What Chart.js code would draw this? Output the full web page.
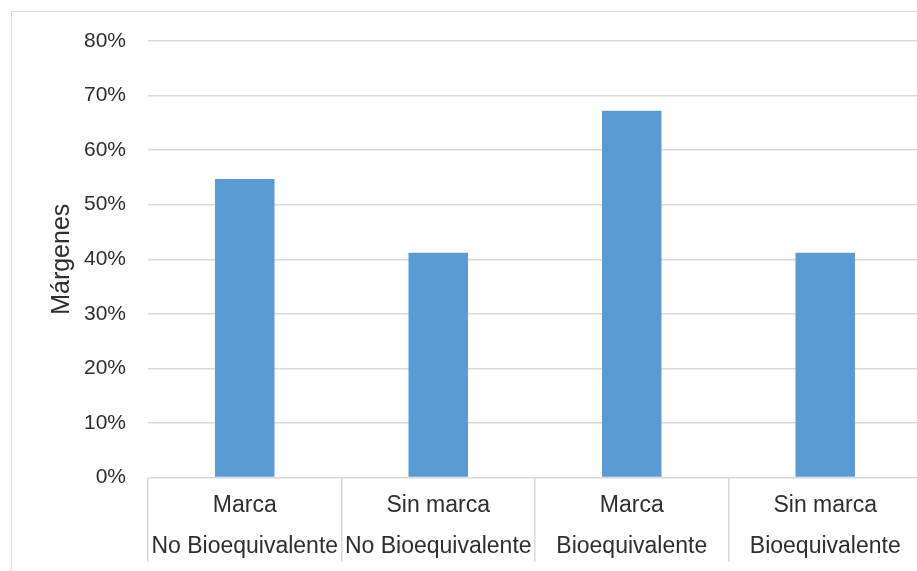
<!DOCTYPE html>
<html>
<head>
<meta charset="utf-8">
<script src="https://cdn.jsdelivr.net/npm/chart.js@4/dist/chart.umd.min.js"></script>
<style>
  html, body { margin: 0; padding: 0; background: #ffffff; overflow: hidden; width: 917px; height: 571px; }
  #frame { position: absolute; left: 11px; top: 11px; width: 1000px; height: 600px; border: 1.5px solid #d9d9d9; box-sizing: border-box; }
  #wrap { position: absolute; left: 0; top: 0; width: 940px; height: 571px; }
</style>
</head>
<body>
<div id="frame"></div>
<div id="wrap"><canvas id="chart"></canvas></div>
<script>
// Categories: brand / no brand, by bioequivalence status
const categories = [
  ['Marca', 'No Bioequivalente'],
  ['Sin marca', 'No Bioequivalente'],
  ['Marca', 'Bioequivalente'],
  ['Sin marca', 'Bioequivalente']
];
// Margins in percent
const margins = [54.7, 41.2, 67.2, 41.2];
const yTicks = [0, 10, 20, 30, 40, 50, 60, 70, 80];
const yTitle = 'Márgenes';

const textColor = '#2e2e2e';
const gridColor = '#d9d9d9';
const fontFamily = '"Liberation Sans", Arial, sans-serif';

new Chart(document.getElementById('chart'), {
  type: 'bar',
  data: {
    labels: categories,
    datasets: [{
      data: margins,
      backgroundColor: '#5b9bd5',
      borderWidth: 0,
      categoryPercentage: 1.0,
      barPercentage: 0.3075
    }]
  },
  options: {
    responsive: true,
    maintainAspectRatio: false,
    animation: false,
    layout: { padding: { left: 0, top: 41, right: 18, bottom: 0 } },
    plugins: { legend: { display: false }, tooltip: { enabled: false } },
    scales: {
      x: {
        grid: {
          offset: true,
          drawOnChartArea: false,
          drawTicks: true,
          tickLength: 84,
          color: gridColor,
          lineWidth: 1.5
        },
        border: { display: false },
        ticks: {
          color: textColor,
          font: { family: fontFamily, size: 23, lineHeight: '41px' },
          padding: -76,
          maxRotation: 0,
          autoSkip: false
        },
        afterFit(scale) { scale.height = 93.5; }
      },
      y: {
        min: 0,
        max: 80,
        afterBuildTicks(scale) { scale.ticks = yTicks.map(v => ({ value: v })); },
        grid: { color: gridColor, lineWidth: 1.5, drawTicks: false },
        border: { display: false },
        ticks: {
          color: textColor,
          font: { family: fontFamily, size: 21 },
          padding: 22,
          callback: v => v + '%'
        },
        title: {
          display: true,
          text: yTitle,
          color: textColor,
          font: { family: fontFamily, size: 25 },
          padding: { top: 47, bottom: 0 }
        },
        afterFit(scale) { scale.width = 148; }
      }
    }
  }
});
</script>
</body>
</html>
